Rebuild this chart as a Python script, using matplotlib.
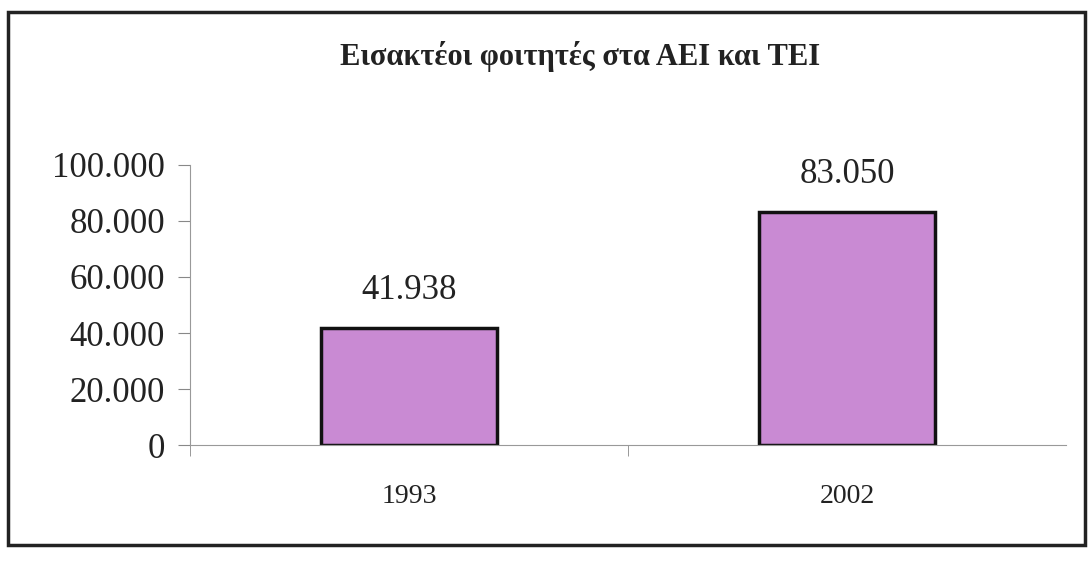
import matplotlib.pyplot as plt
from matplotlib.patches import Rectangle
from matplotlib.ticker import FuncFormatter, FixedLocator

# δεδομένα
years = ['1993', '2002']
students = [41938, 83050]
title = 'Εισακτέοι φοιτητές στα ΑΕΙ και ΤΕΙ'

plt.rcParams['font.family'] = ['Liberation Serif', 'DejaVu Serif']

fig = plt.figure(figsize=(10.88, 5.76), dpi=100)
ax = fig.add_axes([190 / 1088, 1 - 445 / 576, 876 / 1088, 280 / 576])

x = range(len(years))
bars = ax.bar(x, students, width=0.4, color='#c98ad3', edgecolor='#111111', linewidth=2.5)

# ετικέτες τιμών πάνω από τις μπάρες
for b, v in zip(bars, students):
    ax.text(b.get_x() + b.get_width() / 2, v + 7500, f'{v:,}'.replace(',', '.'),
            ha='center', va='bottom', fontsize=25, color='#222222')

ax.set_xlim(-0.5, 1.5)
ax.set_ylim(0, 100000)
ax.set_yticks(range(0, 100001, 20000))
ax.yaxis.set_major_formatter(FuncFormatter(lambda v, p: f'{v:,.0f}'.replace(',', '.')))
ax.set_xticks(list(x))
ax.set_xticklabels(years, fontsize=20, color='#222222')
ax.xaxis.set_minor_locator(FixedLocator([-0.5, 0.5]))
ax.tick_params(axis='x', which='major', length=0, pad=28)
ax.tick_params(axis='x', which='minor', length=8, color='#888888', direction='out')
ax.tick_params(axis='y', labelsize=25, length=9, color='#888888', pad=9, labelcolor='#222222')

for s in ['top', 'right']:
    ax.spines[s].set_visible(False)
ax.spines['left'].set_color('#999999')
ax.spines['bottom'].set_color('#999999')

fig.text(580 / 1088, 1 - 57 / 576, title, ha='center', va='center',
         fontsize=22, fontweight='bold', color='#222222')

# πλαίσιο γύρω από το διάγραμμα
fig.patches.append(Rectangle((8 / 1088, 1 - 545 / 576), 1077 / 1088, 533 / 576,
                             transform=fig.transFigure, fill=False,
                             edgecolor='#222222', linewidth=2.5))

fig.savefig('out.png', dpi=100)
